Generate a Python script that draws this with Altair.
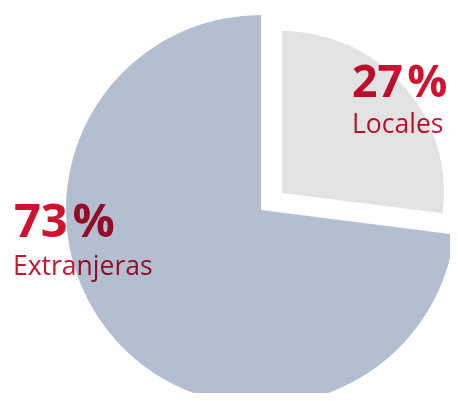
import altair as alt
import pandas as pd

categories = ["Locales", "Extranjeras"]
values = [27, 73]
slice_colors = ["#e3e3e3", "#b3bfd1"]
text_red = "#cf1230"

df = pd.DataFrame({"cat": categories, "value": values})

base = alt.Chart(df).transform_window(
    end="sum(value)", frame=[None, 0]
).transform_calculate(
    start="datum.end - datum.value",
    label="format(datum.value, 'd') + '\u200a%'",
)

theta_scale = alt.Scale(domain=[0, 100], range=[0, 6.283185307])

def slice_layer(cat, cx, cy, r, color):
    return base.transform_filter(alt.datum.cat == cat).mark_arc(
        color=color, stroke=None
    ).encode(
        theta=alt.Theta("start:Q", scale=theta_scale),
        theta2="end:Q",
        radius=alt.value(r),
        x=alt.value(cx),
        y=alt.value(cy),
    )

big = slice_layer("Extranjeras", 253, 202, 195, slice_colors[1])
small = slice_layer("Locales", 274, 185, 162, slice_colors[0])

def text_layer(cat, field, x, y, size, weight):
    return base.transform_filter(alt.datum.cat == cat).mark_text(
        align="left", baseline="alphabetic", font="Open Sans", fontSize=size,
        fontWeight=weight, color=text_red, blend="multiply"
    ).encode(text=f"{field}:N", x=alt.value(x), y=alt.value(y))

texts = [
    text_layer("Locales", "label", 344, 89, 44.5, "bold"),
    text_layer("Locales", "cat", 344, 125, 26.5, "normal"),
    text_layer("Extranjeras", "label", 6, 229, 47, "bold"),
    text_layer("Extranjeras", "cat", 5, 267, 26.5, "normal"),
]

chart = alt.layer(big, small, *texts).properties(
    width=442, height=385, padding=0, autosize="none"
).configure_view(stroke=None)

chart.save("out.html", embed_options={"renderer": "svg", "actions": False})
